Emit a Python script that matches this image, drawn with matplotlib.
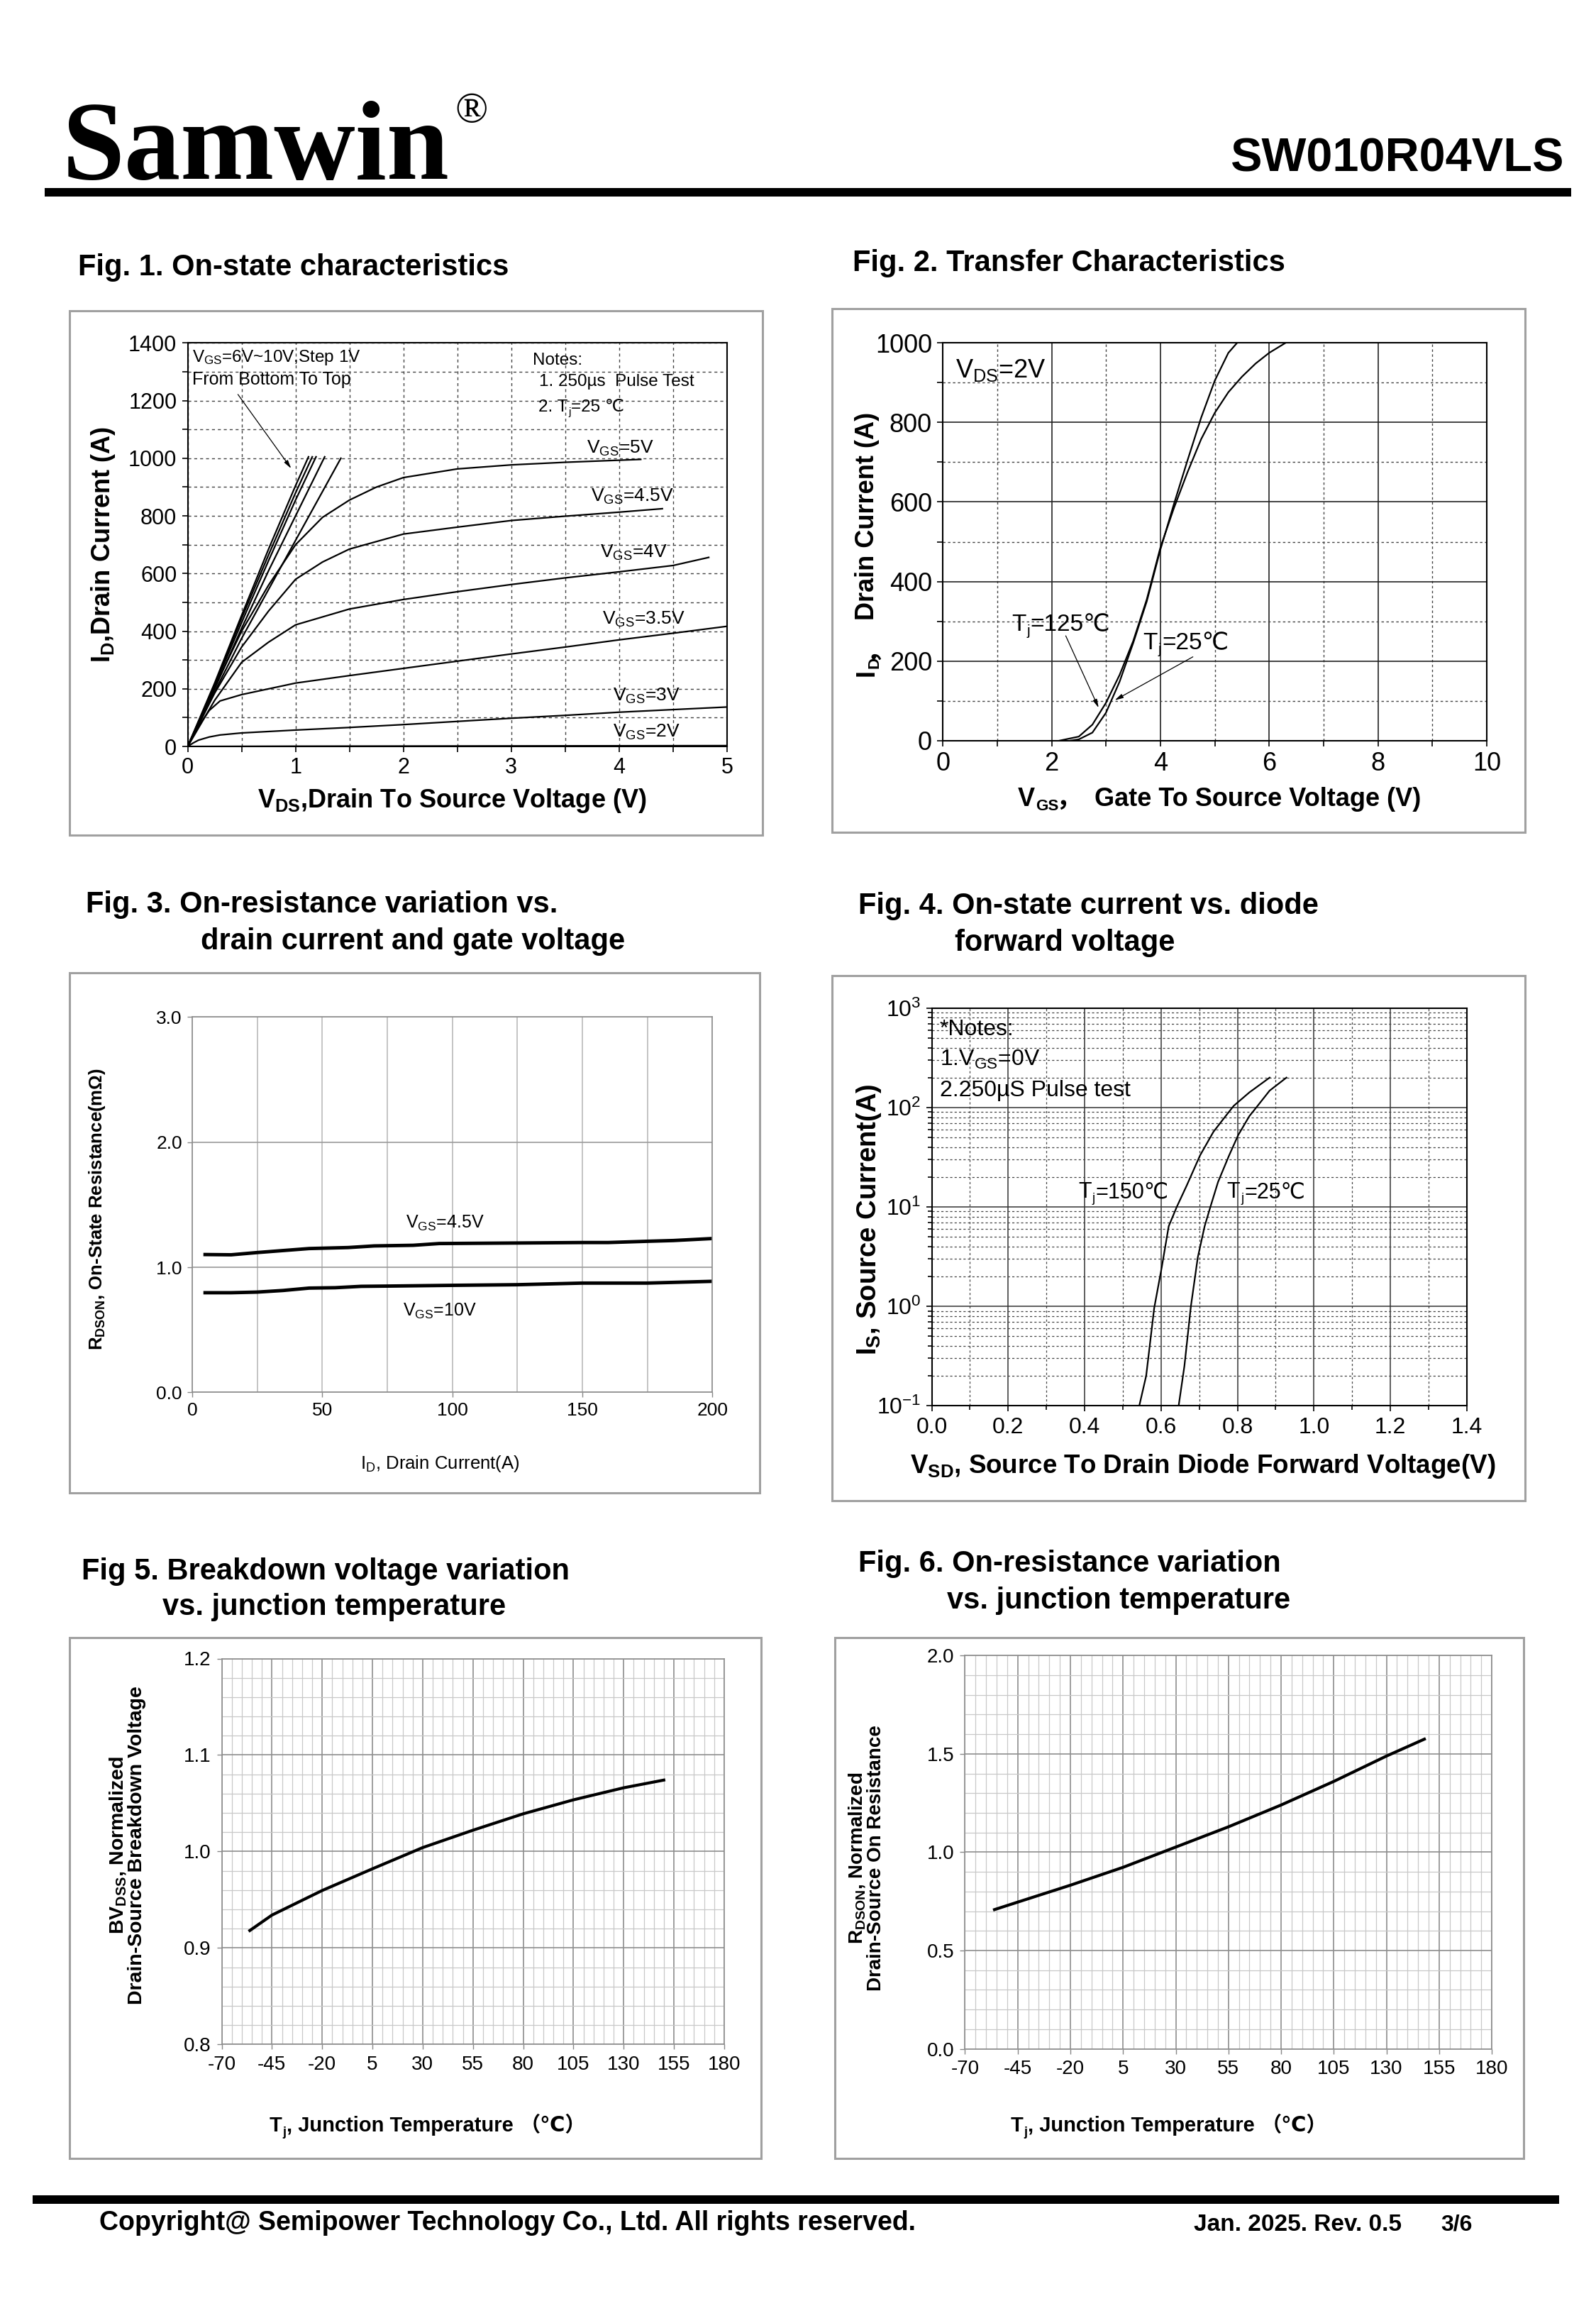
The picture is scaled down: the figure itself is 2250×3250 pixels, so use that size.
import matplotlib
matplotlib.use("Agg")
import matplotlib.pyplot as plt
from matplotlib.patches import Rectangle
from matplotlib.transforms import Affine2D
from matplotlib.ticker import MultipleLocator, LogLocator, NullFormatter, FormatStrFormatter

# ---------------- data ----------------
# Fig.1 output characteristics, VDS (V) / ID (A)
v10 = [0, 0.25, 0.5, 0.75, 1.0, 1.12];  i10 = [0, 220, 455, 685, 905, 1005]
v9 = [0, 0.25, 0.5, 0.75, 1.0, 1.155];  i9 = [0, 215, 445, 665, 880, 1005]
v8 = [0, 0.25, 0.5, 0.75, 1.0, 1.19];   i8 = [0, 210, 430, 645, 855, 1005]
v7 = [0, 0.25, 0.5, 0.75, 1.0, 1.27];   i7 = [0, 200, 410, 610, 800, 1005]
v6 = [0, 0.25, 0.5, 0.75, 1.0, 1.42];   i6 = [0, 190, 375, 545, 715, 1000]
v5 = [0, 0.25, 0.5, 0.75, 1.0, 1.25, 1.5, 1.75, 2.0, 2.5, 3.0, 3.5, 4.2]
i5 = [0, 205, 400, 560, 700, 795, 855, 900, 933, 963, 977, 986, 996]
v45 = [0, 0.25, 0.5, 0.75, 1.0, 1.25, 1.5, 2.0, 2.5, 3.0, 3.5, 4.0, 4.4]
i45 = [0, 185, 345, 470, 580, 640, 685, 737, 761, 784, 799, 813, 825]
v4 = [0, 0.25, 0.5, 0.75, 1.0, 1.5, 2.0, 2.5, 3.0, 3.5, 4.0, 4.5, 4.83]
i4 = [0, 160, 292, 362, 422, 477, 510, 537, 562, 585, 606, 628, 656]
v35 = [0, 0.1, 0.2, 0.3, 0.5, 1.0, 1.5, 2.0, 2.5, 3.0, 3.5, 4.0, 4.5, 5.0]
i35 = [0, 70, 125, 158, 180, 220, 246, 271, 296, 321, 345, 370, 393, 417]
v3 = [0, 0.05, 0.1, 0.2, 0.3, 0.5, 1.0, 1.5, 2.0, 2.5, 3.0, 3.5, 4.0, 4.5, 5.0]
i3 = [0, 12, 22, 33, 40, 47, 57, 66, 76, 87, 98, 108, 119, 128, 137]
v2 = [0, 1.0, 5.0]; i2 = [0, 1, 3]

# Fig.2 transfer characteristics, VGS (V) / ID (A)
t125_v = [2.15, 2.5, 2.75, 3.0, 3.25, 3.5, 3.75, 4.0, 4.25, 4.5, 4.75, 5.0, 5.25, 5.5, 5.75, 6.0, 6.3]
t125_i = [0, 10, 40, 95, 165, 250, 355, 485, 585, 675, 758, 824, 876, 915, 948, 975, 1000]
t25_v = [2.35, 2.5, 2.75, 3.0, 3.25, 3.5, 3.75, 4.0, 4.25, 4.5, 4.75, 5.0, 5.25, 5.41]
t25_i = [0, 3, 20, 70, 148, 245, 350, 480, 595, 705, 812, 905, 975, 1000]

# Fig.3 RDS(on) vs ID
id45 = [5, 15, 25, 35, 45, 60, 70, 85, 95, 130, 150, 160, 175, 185, 200]
r45 = [1.102, 1.10, 1.118, 1.134, 1.15, 1.158, 1.171, 1.176, 1.19, 1.195, 1.198, 1.198, 1.208, 1.214, 1.23]
id10 = [5, 15, 25, 35, 45, 55, 65, 75, 100, 125, 150, 175, 200]
r10 = [0.797, 0.797, 0.802, 0.815, 0.834, 0.837, 0.848, 0.850, 0.856, 0.861, 0.874, 0.874, 0.888]

# Fig.4 body diode, VSD (V) / IS (A)
d150_v = [0.543, 0.561, 0.582, 0.602, 0.620, 0.641, 0.667, 0.702, 0.737, 0.772, 0.79, 0.831, 0.884]
d150_i = [0.1, 0.2, 0.96, 2.5, 6.4, 10, 16.4, 33, 57, 85, 104, 142, 200]
d25_v = [0.646, 0.661, 0.678, 0.696, 0.714, 0.729, 0.749, 0.778, 0.802, 0.831, 0.849, 0.884, 0.928]
d25_i = [0.1, 0.25, 1.0, 3.1, 6.4, 10, 17.8, 33, 53, 82, 100, 148, 200]

# Fig.5 / Fig.6 vs junction temperature
tj5 = [-56, -45, -20, 5, 30, 55, 80, 105, 130, 150]
bv5 = [0.918, 0.934, 0.9595, 0.982, 1.004, 1.022, 1.039, 1.0535, 1.066, 1.074]
tj6 = [-56, -45, -20, 5, 30, 55, 80, 105, 130, 148]
rn6 = [0.708, 0.746, 0.832, 0.923, 1.026, 1.129, 1.240, 1.360, 1.489, 1.575]
temp_ticks = [-70, -45, -20, 5, 30, 55, 80, 105, 130, 155, 180]

# ---------------- fonts ----------------
SANS = ['Liberation Sans', 'DejaVu Sans', 'Noto Sans CJK SC']
plt.rcParams['font.family'] = SANS
plt.rcParams['axes.unicode_minus'] = False
plt.rcParams['mathtext.fontset'] = 'custom'
plt.rcParams['mathtext.rm'] = 'Liberation Sans'
plt.rcParams['mathtext.bf'] = 'Liberation Sans:bold'
plt.rcParams['mathtext.it'] = 'Liberation Sans:italic'

fig = plt.figure(figsize=(22.5, 32.5), dpi=100)
W, H = 1080.0, 1560.0   # layout measured on a 1080 px wide copy of the page


def fx(x):
    return x / W


def fy(y):
    return 1 - y / H


def add_axes(x0, x1, y0, y1):
    return fig.add_axes([x0 / W, 1 - y1 / H, (x1 - x0) / W, (y1 - y0) / H])


def panel(x0, x1, y0, y1):
    fig.add_artist(Rectangle((x0 / W, 1 - y1 / H), (x1 - x0) / W, (y1 - y0) / H,
                             transform=fig.transFigure, fill=False, ec='#a0a0a0', lw=2.2))


def bar(x0, x1, y0, y1):
    fig.add_artist(Rectangle((x0 / W, 1 - y1 / H), (x1 - x0) / W, (y1 - y0) / H,
                             transform=fig.transFigure, fc='black', ec='none'))


def title(x, y, s):
    fig.text(fx(x), fy(y), s, ha='left', va='center', size=30, weight='bold')


def set_tickfont(ax, size):
    for t in ax.get_xticklabels() + ax.get_yticklabels():
        t.set_fontsize(size)


def place_labels(ax, xl=None, yl=None):
    if xl is not None:
        ax.xaxis.set_label_coords(*xl)
        ax.xaxis.label.set_va('center')
    if yl is not None:
        ax.yaxis.set_label_coords(*yl)
        ax.yaxis.label.set_va('center')


def chain(ax, x, y, parts, coords='data', rotation=0, ha='left', size=20, weight='normal'):
    # text made of pieces (subscripts next to ℃ / full-width signs that mathtext can't draw)
    trans = ax.transData if coords == 'data' else ax.transAxes
    r = fig.canvas.get_renderer()
    px = size * fig.dpi / 72.0
    arts = []
    for s, scale, shift, gap in parts:
        t = ax.text(x, y, s, transform=trans, rotation=rotation, rotation_mode='anchor', ha='left',
                    va='baseline', size=size * scale, weight=weight, family=SANS, clip_on=False)
        bb = t.get_window_extent(r)
        arts.append((t, shift, gap * px, bb.width if rotation == 0 else bb.height))
    total = sum(g + L for _, _, g, L in arts)
    pos = -total / 2 if ha == 'center' else 0.0
    for t, shift, g, L in arts:
        pos += g
        perp = (shift - 0.36) * px
        dx, dy = (pos, perp) if rotation == 0 else (-perp, pos)
        t.set_transform(trans + Affine2D().translate(dx, dy))
        pos += L


def tj_parts(rest):
    return [('T', 1, 0, 0), ('j', 0.62, -0.18, 0.03), (rest, 1, 0, 0.03)]


# ---------------- header / footer ----------------
fig.text(fx(42), fy(121), 'Samwin', family=['Liberation Serif', 'DejaVu Serif'], weight='bold',
         size=114, ha='left', va='baseline')
fig.text(fx(308), fy(62), '®', family=['Liberation Serif', 'DejaVu Serif'], size=44, ha='left', va='top')
fig.text(fx(1058), fy(116), 'SW010R04VLS', weight='bold', size=48, ha='right', va='baseline')
bar(30, 1063, 127, 133)
bar(22, 1055, 1485, 1491)
fig.text(fx(67), fy(1504), 'Copyright@ Semipower Technology Co., Ltd. All rights reserved.',
         weight='bold', size=27, va='center')
fig.text(fx(808), fy(1505), 'Jan. 2025. Rev. 0.5', weight='bold', size=24, va='center')
fig.text(fx(975), fy(1505), '3/6', weight='bold', size=23, va='center')

# ---------------- panels ----------------
panel(47, 516, 210, 565)
panel(563, 1032, 209, 563)
panel(47, 514, 658, 1010)
panel(563, 1032, 660, 1015)
panel(47, 515, 1108, 1460)
panel(565, 1031, 1108, 1460)

title(53, 181, 'Fig. 1. On-state characteristics')
title(577, 178, 'Fig. 2. Transfer Characteristics')
title(58, 612, 'Fig. 3. On-resistance variation vs.')
title(136, 637, 'drain current and gate voltage')
title(581, 613, 'Fig. 4. On-state current vs. diode')
title(646, 638, 'forward voltage')
title(55, 1063, 'Fig 5. Breakdown voltage variation')
title(110, 1087, 'vs. junction temperature')
title(581, 1058, 'Fig. 6. On-resistance variation')
title(641, 1083, 'vs. junction temperature')

# ---- Fig 1 ----
ax1 = add_axes(127, 492, 232, 505)
for vv, ii in [(v10, i10), (v9, i9), (v8, i8), (v7, i7), (v6, i6), (v5, i5), (v45, i45),
               (v4, i4), (v35, i35), (v3, i3), (v2, i2)]:
    ax1.plot(vv, ii, color='black', lw=1.6)
ax1.set_xlim(0, 5)
ax1.set_ylim(0, 1400)
ax1.xaxis.set_major_locator(MultipleLocator(1))
ax1.xaxis.set_minor_locator(MultipleLocator(0.5))
ax1.yaxis.set_major_locator(MultipleLocator(200))
ax1.yaxis.set_minor_locator(MultipleLocator(100))
ax1.grid(which='both', ls=(0, (3, 3)), color='#444444', lw=1)
ax1.tick_params(which='both', direction='out', length=6, width=1.2, pad=5)
for s in ax1.spines.values():
    s.set_linewidth(1.5)
set_tickfont(ax1, 22)
ax1.set_xlabel(r'$\mathbf{V_{DS}}$,Drain To Source Voltage (V)', size=26, weight='bold')
ax1.set_ylabel(r'$\mathbf{I_D}$,Drain Current (A)', size=26, weight='bold')
place_labels(ax1, (0.49, -0.135), (-0.156, 0.5))
ax1.text(0.04, 1350, r'V$_{\rm GS}$=6V~10V,Step 1V', size=17.5, va='center')
ax1.text(0.04, 1274, 'From Bottom To Top', size=18, va='center')
ax1.annotate('', xy=(0.97, 959), xytext=(0.455, 1227),
             arrowprops=dict(arrowstyle='-|>,head_length=0.7,head_width=0.18', color='black', lw=0.9))
ax1.text(3.2, 1340, 'Notes:', size=17.5, va='center')
ax1.text(3.26, 1266, '1. 250µs  Pulse Test', size=17.5, va='center')
chain(ax1, 3.25, 1183, [('2. T', 1, 0, 0), ('j', 0.62, -0.18, 0.03), ('=25 ℃', 1, 0, 0.03)], size=17.5)
for xl, yl, s in [(3.70, 1035, '5V'), (3.74, 866, '4.5V'), (3.82, 673, '4V'),
                  (3.84, 440, '3.5V'), (3.94, 174, '3V'), (3.94, 49, '2V')]:
    ax1.text(xl, yl, r'V$_{\rm GS}$=' + s, size=19, va='center')

# ---- Fig 2 ----
ax2 = add_axes(638, 1006, 232, 501)
ax2.plot(t125_v, t125_i, color='black', lw=1.6)
ax2.plot(t25_v, t25_i, color='black', lw=1.6)
ax2.set_xlim(0, 10)
ax2.set_ylim(0, 1000)
ax2.xaxis.set_major_locator(MultipleLocator(2))
ax2.xaxis.set_minor_locator(MultipleLocator(1))
ax2.yaxis.set_major_locator(MultipleLocator(200))
ax2.yaxis.set_minor_locator(MultipleLocator(100))
ax2.grid(which='major', ls='-', color='#222222', lw=1.2)
ax2.grid(which='minor', ls=(0, (2.5, 2.5)), color='#444444', lw=1)
ax2.tick_params(which='both', direction='out', length=6, width=1.2, pad=5)
for s in ax2.spines.values():
    s.set_linewidth(1.5)
set_tickfont(ax2, 26)
chain(ax2, 0.508, -0.141, [('V', 1, 0, 0), ('GS', 0.62, -0.18, 0.03), ('，', 1, 0, -0.1),
                            ('Gate To Source Voltage (V)', 1, 0, 0.5)],
      coords='axes', ha='center', size=26, weight='bold')
chain(ax2, -0.144, 0.494, [('I', 1, 0, 0), ('D', 0.62, -0.18, 0.03), ('，', 1, 0, -0.1),
                            ('Drain Current (A)', 1, 0, 0.55)],
      coords='axes', rotation=90, ha='center', size=26, weight='bold')
ax2.text(0.23, 931, r'V$_{\rm DS}$=2V', size=26, va='center')
chain(ax2, 1.26, 298, tj_parts('=125℃'), size=24)
chain(ax2, 3.68, 251, tj_parts('=25℃'), size=24)
arw = dict(arrowstyle='-|>,head_length=0.7,head_width=0.18', color='black', lw=0.9)
ax2.annotate('', xy=(2.88, 78), xytext=(2.245, 268), arrowprops=arw)
ax2.annotate('', xy=(3.13, 99), xytext=(4.63, 213), arrowprops=arw)

# ---- Fig 3 ----
ax3 = add_axes(130, 482, 688, 942)
ax3.plot(id45, r45, color='black', lw=3.5)
ax3.plot(id10, r10, color='black', lw=3.5)
ax3.set_xlim(0, 200)
ax3.set_ylim(0, 3.0)
ax3.xaxis.set_major_locator(MultipleLocator(50))
ax3.xaxis.set_minor_locator(MultipleLocator(25))
ax3.yaxis.set_major_locator(MultipleLocator(1.0))
ax3.yaxis.set_major_formatter(FormatStrFormatter('%.1f'))
ax3.grid(which='both', axis='x', color='#b4b4b4', lw=1.1)
ax3.grid(which='major', axis='y', color='#9a9a9a', lw=1.2)
ax3.tick_params(which='major', direction='out', length=5, width=1, color='#888888', pad=5)
ax3.tick_params(which='minor', length=0)
for s in ax3.spines.values():
    s.set_color('#8c8c8c')
    s.set_linewidth(1.2)
set_tickfont(ax3, 19)
ax3.set_xlabel(r'I$_{\rm D}$, Drain Current(A)', size=18.5)
ax3.set_ylabel(r'$\mathbf{R_{DSON}}$, On-State Resistance(mΩ)', size=18.5, weight='bold')
place_labels(ax3, (0.477, -0.189), (-0.182, 0.488))
ax3.text(82, 1.35, r'V$_{\rm GS}$=4.5V', size=18, va='center')
ax3.text(81, 0.647, r'V$_{\rm GS}$=10V', size=18, va='center')

# ---- Fig 4 ----
ax4 = add_axes(630.5, 992.6, 682, 951)
ax4.plot(d150_v, d150_i, color='black', lw=1.6)
ax4.plot(d25_v, d25_i, color='black', lw=1.6)
ax4.set_yscale('log')
ax4.set_xlim(0, 1.4)
ax4.set_ylim(0.1, 1000)
ax4.xaxis.set_major_locator(MultipleLocator(0.2))
ax4.xaxis.set_minor_locator(MultipleLocator(0.1))
ax4.xaxis.set_major_formatter(FormatStrFormatter('%.1f'))
ax4.yaxis.set_major_locator(LogLocator(base=10, numticks=10))
ax4.yaxis.set_minor_locator(LogLocator(base=10, subs=range(2, 10), numticks=20))
ax4.yaxis.set_minor_formatter(NullFormatter())
ax4.grid(which='major', ls='-', color='#333333', lw=1.1)
ax4.grid(which='minor', ls=(0, (2.5, 2.5)), color='#444444', lw=0.9)
ax4.tick_params(which='both', direction='out', length=6, width=1.2, pad=5)
ax4.tick_params(which='minor', length=4)
for s in ax4.spines.values():
    s.set_linewidth(1.5)
set_tickfont(ax4, 23)
ax4.set_xlabel(r'$\mathbf{V_{SD}}$, Source To Drain Diode Forward Voltage(V)', size=26.5, weight='bold')
ax4.set_ylabel(r'$\mathbf{I_S}$, Source Current(A)', size=27.5, weight='bold')
place_labels(ax4, (0.507, -0.152), (-0.117, 0.468))
ax4.text(0.021, 610, '*Notes:', size=23, va='center')
ax4.text(0.021, 302, r'1.V$_{\rm GS}$=0V', size=23, va='center')
ax4.text(0.021, 148, '2.250µS Pulse test', size=23, va='center')
chain(ax4, 0.383, 14.8, tj_parts('=150℃'), size=22)
chain(ax4, 0.772, 14.8, tj_parts('=25℃'), size=22)


# ---- Fig 5 / Fig 6 ----
def temp_axes(ax, ymaj, ymin):
    ax.set_xlim(-70, 180)
    ax.set_xticks(temp_ticks)
    ax.xaxis.set_minor_locator(MultipleLocator(5))
    ax.yaxis.set_major_locator(MultipleLocator(ymaj))
    ax.yaxis.set_minor_locator(MultipleLocator(ymin))
    ax.yaxis.set_major_formatter(FormatStrFormatter('%.1f'))
    ax.grid(which='minor', color='#c8c8c8', lw=0.9)
    ax.grid(which='major', color='#8e8e8e', lw=1.2)
    ax.tick_params(which='major', direction='out', length=5, width=1, color='#888888', pad=6)
    ax.tick_params(which='minor', length=0)
    for s in ax.spines.values():
        s.set_color('#8c8c8c')
        s.set_linewidth(1.2)
    set_tickfont(ax, 20)


ax5 = add_axes(150, 490, 1122, 1383)
ax5.plot(tj5, bv5, color='black', lw=3)
ax5.set_ylim(0.8, 1.2)
temp_axes(ax5, 0.1, 0.02)
chain(ax5, 0.41, -0.207, tj_parts(', Junction Temperature') + [('（℃）', 1, 0, 0.3)],
      coords='axes', ha='center', size=21, weight='bold')
ax5.set_ylabel(r'BV$_{\mathbf{DSS}}$, Normalized' + '\n' + 'Drain-Source Breakdown Voltage',
               size=20.5, weight='bold', linespacing=1.0)
place_labels(ax5, yl=(-0.188, 0.517))

ax6 = add_axes(653, 1009.5, 1120, 1386)
ax6.plot(tj6, rn6, color='black', lw=3)
ax6.set_ylim(0, 2.0)
temp_axes(ax6, 0.5, 0.1)
chain(ax6, 0.387, -0.192, tj_parts(', Junction Temperature') + [('（℃）', 1, 0, 0.3)],
      coords='axes', ha='center', size=21, weight='bold')
ax6.set_ylabel(r'R$_{\mathbf{DSON}}$, Normalized' + '\n' + 'Drain-Source On Resistance',
               size=20, weight='bold', linespacing=1.0)
place_labels(ax6, yl=(-0.188, 0.485))

fig.savefig('out.png', dpi=100, facecolor='white')
